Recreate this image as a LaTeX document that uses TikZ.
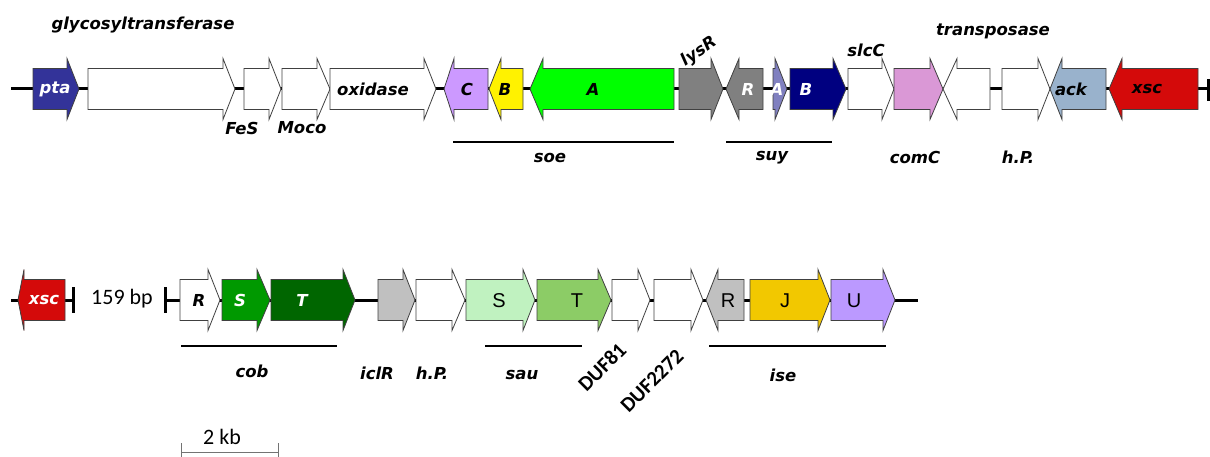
\documentclass[tikz,border=0pt]{standalone}
\usepackage{fontspec}
\setmainfont{DejaVu Sans}
\newfontfamily\carlito{Carlito}
\newfontfamily\arialf{Liberation Sans}
\definecolor{ptac}{RGB}{51,51,153}
\definecolor{lavc}{RGB}{204,153,255}
\definecolor{lyc}{RGB}{128,128,128}
\definecolor{suyA}{RGB}{128,128,192}
\definecolor{navyc}{RGB}{0,0,128}
\definecolor{comc}{RGB}{218,152,214}
\definecolor{ackc}{RGB}{153,178,204}
\definecolor{xscc}{RGB}{212,10,10}
\definecolor{cobS}{RGB}{0,153,0}
\definecolor{cobT}{RGB}{0,102,0}
\definecolor{ltgray}{RGB}{192,192,192}
\definecolor{sauS}{RGB}{192,242,192}
\definecolor{sauT}{RGB}{140,204,102}
\definecolor{iseJ}{RGB}{242,200,0}
\definecolor{iseU}{RGB}{187,153,255}
\definecolor{outl}{RGB}{64,64,64}
\tikzset{
  gene/.style={draw=outl,line width=0.8pt,line join=miter},
  backbone/.style={line width=3pt,black},
  region/.style={line width=2.2pt,black},
  lab/.style={font=\fontsize{16.5}{18}\selectfont\bfseries\itshape,inner sep=0pt,anchor=center},
  wlab/.style={lab,text=white},
  plain/.style={font=\fontsize{20}{22}\selectfont\arialf,inner sep=0pt,anchor=center},
  cal/.style={font=\fontsize{22}{24}\selectfont\carlito,inner sep=0pt,anchor=center},
  dufl/.style={font=\fontsize{21}{23}\selectfont\carlito\bfseries,inner sep=0pt,anchor=center,rotate=45},
}
% right-pointing gene: start, head base, tip, y centre, fill
\newcommand{\gRt}[5]{\draw[gene,fill=#5] (#1,#4-20.5) -- (#2,#4-20.5) -- (#2,#4-30.5) -- (#3,#4) -- (#2,#4+30.5) -- (#2,#4+20.5) -- (#1,#4+20.5) -- cycle;}
% left-pointing gene: tip, head base, end, y centre, fill
\newcommand{\gLt}[5]{\draw[gene,fill=#5] (#3,#4-20.5) -- (#2,#4-20.5) -- (#2,#4-30.5) -- (#1,#4) -- (#2,#4+30.5) -- (#2,#4+20.5) -- (#3,#4+20.5) -- cycle;}
\begin{document}
\begin{tikzpicture}[x=1pt,y=-1pt]
\useasboundingbox (0,0) rectangle (1210,457);
% ---------- top row ----------
\coordinate (t0) at (11,89);
\coordinate (t1) at (1208,89);
\draw[backbone] (t0) -- (t1);
\draw[line width=3pt] (1208,79) -- (1208,101);
\gRt{33}{67}{79}{89}{ptac}
\gRt{88}{223}{235}{89}{white}
\gRt{244}{269}{281}{89}{white}
\gRt{282}{317}{330}{89}{white}
\gRt{330}{424}{436}{89}{white}
\gLt{444}{454}{488}{89}{lavc}
\gLt{489}{501}{523}{89}{yellow}
\gLt{530}{543}{674}{89}{green}
\gRt{679}{711}{723}{89}{lyc}
\gLt{726}{739}{763}{89}{lyc}
\gRt{773}{775}{787}{89}{suyA}
\gRt{790}{833}{846}{89}{navyc}
\gRt{848}{882}{894}{89}{white}
\gRt{894}{930}{943}{89}{comc}
\gLt{943}{957}{990}{89}{white}
\gRt{1002}{1038}{1050}{89}{white}
\gLt{1050}{1062}{1106}{89}{ackc}
\gLt{1109}{1122}{1198}{89}{xscc}
\node[wlab] (pta) at (55,89) {pta};
\node[lab] (gly) at (143,25) {glycosyltransferase};
\node[lab] (fes) at (242,128) {FeS};
\node[lab] (moco) at (302,128) {Moco};
\node[lab] (oxi) at (373,89) {oxidase};
\node[lab] (soeC) at (467,89) {C};
\node[lab] (soeB) at (505,89) {B};
\node[lab] (soeA) at (593,89) {A};
\node[lab,rotate=35] (lysr) at (699,52) {lysR};
\node[wlab] (suyR) at (748,89) {R};
\node[wlab] (suyA) at (777,89) {A};
\node[wlab] (suyB) at (806,89) {B};
\node[lab] (slcc) at (866,50) {slcC};
\node[lab] (trans) at (993,31) {transposase};
\node[lab] (comc) at (915,157) {comC};
\node[lab] (hp1) at (1018,157) {h.P.};
\node[lab] (ack) at (1071,89) {ack};
\node[lab] (xsc1) at (1147,89) {xsc};
\coordinate (soe0) at (453,142); \coordinate (soe1) at (674,142);
\draw[region] (soe0) -- (soe1);
\node[lab] (soe) at (550,158) {soe};
\coordinate (suy0) at (726,142); \coordinate (suy1) at (832,142);
\draw[region] (suy0) -- (suy1);
\node[lab] (suy) at (772,158) {suy};
% ---------- bottom row ----------
\coordinate (b0) at (11,300);
\coordinate (b1) at (73,300);
\coordinate (b2) at (165,300);
\coordinate (b3) at (918,300);
\draw[backbone] (b0) -- (b1);
\draw[backbone] (b2) -- (b3);
\draw[line width=3pt] (73,287) -- (73,313);
\draw[line width=3pt] (165,287) -- (165,313);
\gLt{18}{24}{65}{300}{xscc}
\gRt{180}{208}{220}{300}{white}
\gRt{222}{257}{270}{300}{cobS}
\gRt{271}{343}{355}{300}{cobT}
\gRt{378}{403}{415}{300}{ltgray}
\gRt{416}{452}{465}{300}{white}
\gRt{466}{523}{535}{300}{sauS}
\gRt{537}{598}{611}{300}{sauT}
\gRt{612}{638}{650}{300}{white}
\gRt{654}{691}{703}{300}{white}
\gLt{706}{718}{744}{300}{ltgray}
\gRt{750}{818}{830}{300}{iseJ}
\gRt{831}{883}{895}{300}{iseU}
\node[wlab] (xsc2) at (44,300) {xsc};
\node[cal] (bp) at (122,299) {159 bp};
\node[lab] (cobR) at (199,300) {R};
\node[wlab] (cobSl) at (240,300) {S};
\node[wlab] (cobTl) at (302,300) {T};
\node[plain] (sauSl) at (499,301) {S};
\node[plain] (sauTl) at (577,301) {T};
\node[plain] (iseR) at (728,301) {R};
\node[plain] (iseJl) at (785,301) {J};
\node[plain] (iseUl) at (854,301) {U};
\coordinate (cob0) at (181,346); \coordinate (cob1) at (337,346);
\draw[region] (cob0) -- (cob1);
\node[lab] (cob) at (252,371) {cob};
\node[lab] (iclr) at (377,373) {iclR};
\node[lab] (hp2) at (432,373) {h.P.};
\coordinate (sau0) at (485,346); \coordinate (sau1) at (582,346);
\draw[region] (sau0) -- (sau1);
\node[lab] (sau) at (522,375) {sau};
\node[dufl] (duf81) at (602,367) {DUF81};
\node[dufl] (duf2272) at (652,381) {DUF2272};
\coordinate (ise0) at (709,346); \coordinate (ise1) at (886,346);
\draw[region] (ise0) -- (ise1);
\node[lab] (ise) at (783,375) {ise};
% scale bar
\coordinate (s0) at (181,452); \coordinate (s1) at (278,452);
\draw[line width=1pt,black!55] (s0) -- (s1);
\draw[line width=1pt,black!55] (181,443) -- (181,458);
\draw[line width=1pt,black!55] (278,443) -- (278,458);
\node[cal] (kb) at (222,437) {2 kb};
\end{tikzpicture}
\end{document}
